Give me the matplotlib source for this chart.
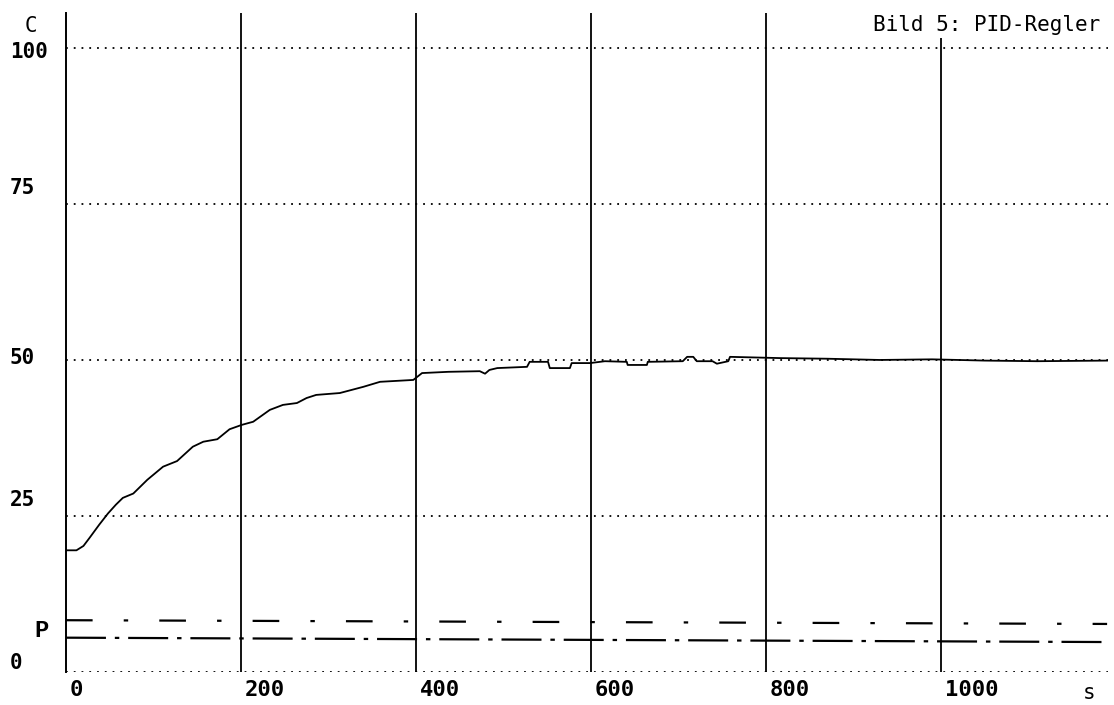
import matplotlib

matplotlib.use("Agg")
import matplotlib.pyplot as plt
from matplotlib.transforms import blended_transform_factory, ScaledTranslation

# Controller output C (percent) over time (s)
time_s = [0, 12, 20, 27, 38, 48, 57, 65, 77, 93, 111, 127, 145, 157, 173,
          187, 201, 214, 233, 248, 264, 275, 286, 313, 340, 359, 397, 407,
          437, 473, 479, 484, 493, 527, 530, 551, 553, 576, 578, 599, 616,
          641, 642, 664, 665, 705, 710, 717, 721, 739, 744, 757, 759, 816,
          870, 930, 990, 1050, 1110, 1190]
c_value = [19.5, 19.5, 20.2, 21.5, 23.6, 25.4, 26.8, 27.9, 28.6, 30.8, 32.9,
           33.8, 36.1, 36.9, 37.3, 38.9, 39.6, 40.1, 42.0, 42.8, 43.1, 43.9,
           44.4, 44.7, 45.7, 46.5, 46.8, 47.9, 48.1, 48.2, 47.8, 48.4, 48.7,
           48.9, 49.7, 49.7, 48.7, 48.7, 49.5, 49.5, 49.8, 49.7, 49.2, 49.2,
           49.7, 49.8, 50.5, 50.5, 49.8, 49.8, 49.4, 49.8, 50.5, 50.3, 50.2,
           50.0, 50.1, 49.9, 49.8, 49.9]

# P traces (lower band)
p_time = [0, 1190]
p_upper = [8.3, 7.7]
p_lower = [5.5, 4.8]

x_ticks = [0, 200, 400, 600, 800, 1000]
y_grid = [0, 25, 50, 75, 100]
y_labels = ["0", "25", "50", "75", "100"]
y_label_pos = [1.4, 27.5, 50.3, 77.6, 99.4]

MONO = "DejaVu Sans Mono"

fig = plt.figure(figsize=(11.14, 7.05), dpi=100)
ax = fig.add_axes([0.0592, 0.0468, 0.9354, 0.9348])
ax.set_xlim(0, 1191)
ax.set_ylim(0, 105.6)

for s in ("top", "right", "bottom"):
    ax.spines[s].set_visible(False)
ax.spines["left"].set_linewidth(1.4)

# dotted horizontal grid
for v in y_grid:
    ax.axhline(v, color="black", lw=1.3, linestyle=(0, (1, 3.3)), zorder=1)
# solid vertical grid
for t in x_ticks[1:]:
    ax.axvline(t, color="black", lw=1.3, zorder=1)

ax.plot(time_s, c_value, color="black", lw=1.3, zorder=3)
ax.plot(p_time, p_upper, color="black", lw=1.6,
        linestyle=(0, (12, 14, 2, 14)), zorder=3)
ax.plot(p_time, p_lower, color="black", lw=1.6,
        linestyle=(0, (18, 4, 2, 4)), zorder=3)

ax.set_xticks([])
ax.set_yticks([])

# x tick labels, left aligned next to the grid lines
xtrans = blended_transform_factory(ax.transData, ax.transAxes) + \
    ScaledTranslation(4 / 100, 0, fig.dpi_scale_trans)
for t in x_ticks:
    ax.text(t, -0.028, str(t), transform=xtrans, ha="left", va="center",
            family=MONO, fontsize=16, fontweight="bold")
ax.text(1170, -0.032, "s", transform=blended_transform_factory(
    ax.transData, ax.transAxes), ha="center", va="center", family=MONO,
    fontsize=15)

ytrans = blended_transform_factory(ax.transAxes, ax.transData)
for lab, pos in zip(y_labels, y_label_pos):
    ax.text(-0.054, pos, lab, transform=ytrans, ha="left", va="center",
            family=MONO, fontsize=15, fontweight="bold")
ax.text(-0.034, 103.5, "C", transform=ytrans, ha="center", va="center",
        family=MONO, fontsize=15)
ax.text(-0.024, 6.7, "P", transform=ytrans, ha="center", va="center",
        family="Liberation Mono", fontsize=17, fontweight="bold")

ax.text(0.993, 0.982, "Bild 5: PID-Regler", transform=ax.transAxes,
        ha="right", va="center", family=MONO, fontsize=15, zorder=5,
        bbox=dict(facecolor="white", edgecolor="none", pad=2))

fig.savefig("out.png", dpi=100, facecolor="white")
